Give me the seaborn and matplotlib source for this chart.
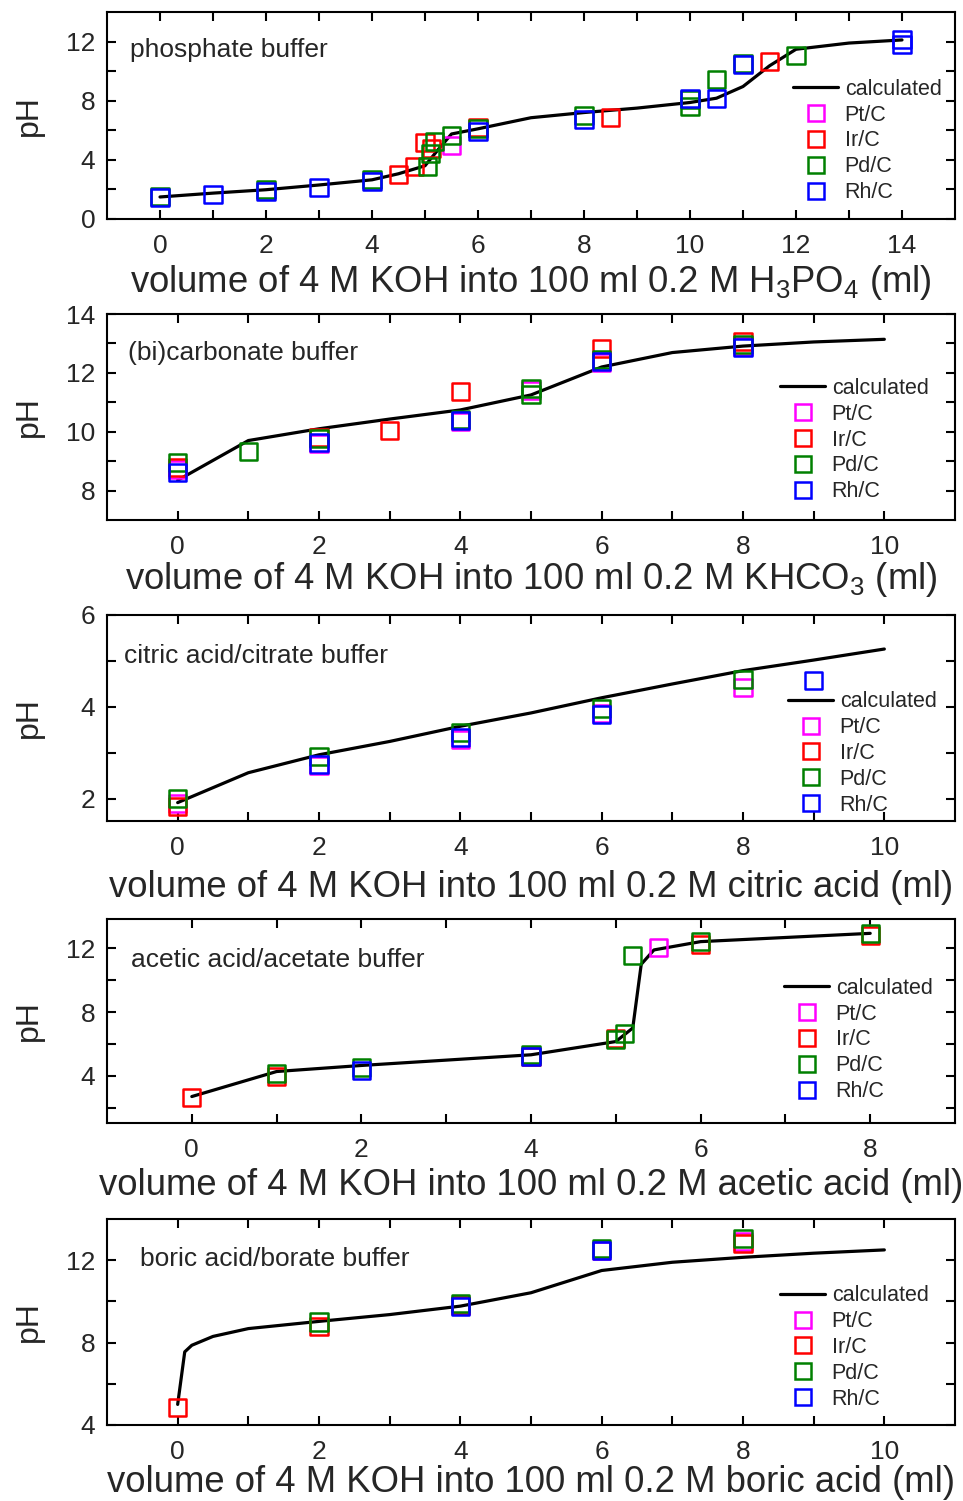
import numpy as np
import pandas as pd
import matplotlib
matplotlib.use("Agg")
import matplotlib.pyplot as plt
import seaborn as sns
from matplotlib.lines import Line2D
from matplotlib.ticker import FixedLocator

# ---------------- data ----------------
catalysts = ["Pt/C", "Ir/C", "Pd/C", "Rh/C"]
cat_colors = ["#FF00FF", "#FF0000", "#008000", "#0000FF"]

# phosphate buffer
phos_calc_x = [0, 1, 2, 3, 4, 4.5, 5, 5.25, 5.5, 6, 7, 8, 9, 10, 10.5, 11, 11.5, 12, 13, 14]
phos_calc_y = [1.49, 1.75, 1.98, 2.3, 2.65, 3.06, 3.6, 4.7, 5.75, 6.1, 6.85, 7.2, 7.5, 7.88, 8.17, 8.96, 10.36, 11.48, 11.9, 12.11]
phos_pt_x = [5.5]
phos_pt_y = [4.95]
phos_ir_x = [4.5, 4.8, 5.0, 5.12, 6, 8.5, 11.5]
phos_ir_y = [2.99, 3.55, 5.18, 4.8, 6.2, 6.89, 10.65]
phos_pd_x = [0, 2, 4, 5.05, 5.1, 5.18, 5.5, 6, 8, 10, 10, 10.5, 11, 12]
phos_pd_y = [1.55, 2.0, 2.65, 3.55, 4.41, 5.24, 5.63, 6.1, 6.98, 7.6, 8.05, 9.41, 10.55, 11.03]
phos_rh_x = [0, 1, 2, 3, 4, 6, 8, 10, 10.5, 11, 14, 14]
phos_rh_y = [1.45, 1.64, 1.86, 2.14, 2.54, 5.92, 6.7, 8.17, 8.17, 10.43, 12.11, 11.8]

# (bi)carbonate buffer
carb_calc_x = [0, 1, 2, 3, 4, 5, 6, 7, 8, 9, 10]
carb_calc_y = [8.35, 9.7, 10.1, 10.43, 10.74, 11.25, 12.2, 12.69, 12.91, 13.05, 13.14]
carb_pt_x = [0, 2, 4, 5, 6, 8]
carb_pt_y = [8.7, 9.6, 10.35, 11.39, 12.35, 12.9]
carb_ir_x = [0, 2, 3, 4, 6, 8]
carb_ir_y = [8.8, 9.82, 10.04, 11.36, 12.83, 13.05]
carb_pd_x = [0, 1, 2, 4, 5, 5, 6, 8]
carb_pd_y = [8.95, 9.34, 9.76, 10.43, 11.48, 11.28, 12.46, 12.95]
carb_rh_x = [0, 2, 4, 6, 8]
carb_rh_y = [8.63, 9.65, 10.38, 12.4, 12.87]

# citric acid/citrate buffer
citr_calc_x = [0, 1, 2, 3, 4, 5, 6, 7, 8, 9, 10]
citr_calc_y = [1.92, 2.57, 2.96, 3.25, 3.58, 3.87, 4.2, 4.5, 4.79, 5.02, 5.26]
citr_pt_x = [0, 2, 4, 6, 8]
citr_pt_y = [1.9, 2.72, 3.3, 3.85, 4.42]
citr_ir_x = [0]
citr_ir_y = [1.83]
citr_pd_x = [0, 2, 4, 6, 8]
citr_pd_y = [2.02, 2.93, 3.45, 3.96, 4.6]
citr_rh_x = [2, 4, 6, 9]
citr_rh_y = [2.75, 3.33, 3.84, 4.58]

# acetic acid/acetate buffer
acet_calc_x = [0, 1, 2, 4, 5, 5.2, 5.3, 5.45, 6, 8]
acet_calc_y = [2.7, 4.27, 4.65, 5.32, 6.15, 7.0, 11.0, 11.9, 12.42, 12.94]
acet_pt_x = [5.5]
acet_pt_y = [12.06]
acet_ir_x = [0, 1, 4, 5, 6, 8]
acet_ir_y = [2.64, 3.96, 5.2, 6.32, 12.25, 12.79]
acet_pd_x = [1, 2, 4, 5, 5.1, 5.2, 6, 8]
acet_pd_y = [4.12, 4.54, 5.32, 6.3, 6.67, 11.54, 12.41, 12.94]
acet_rh_x = [2, 4]
acet_rh_y = [4.33, 5.21]

# boric acid/borate buffer
bor_calc_x = [0, 0.1, 0.2, 0.5, 1, 2, 3, 4, 5, 6, 7, 8, 9, 10]
bor_calc_y = [5.0, 7.55, 7.87, 8.3, 8.68, 9.03, 9.36, 9.77, 10.42, 11.5, 11.9, 12.14, 12.34, 12.5]
bor_pt_x = [4, 6, 8]
bor_pt_y = [9.8, 12.45, 12.9]
bor_ir_x = [0, 2, 4, 8]
bor_ir_y = [4.84, 8.78, 9.8, 12.82]
bor_pd_x = [2, 4, 6, 8]
bor_pd_y = [9.0, 9.92, 12.58, 13.03]
bor_rh_x = [4, 6]
bor_rh_y = [9.76, 12.47]

buffer_names = ["phosphate buffer", "(bi)carbonate buffer", "citric acid/citrate buffer",
                "acetic acid/acetate buffer", "boric acid/borate buffer"]
xlabels = [
    r"volume of 4 M KOH into 100 ml 0.2 M H$\mathregular{_3}$PO$\mathregular{_4}$ (ml)",
    r"volume of 4 M KOH into 100 ml 0.2 M KHCO$\mathregular{_3}$ (ml)",
    "volume of 4 M KOH into 100 ml 0.2 M citric acid (ml)",
    "volume of 4 M KOH into 100 ml 0.2 M acetic acid (ml)",
    "volume of 4 M KOH into 100 ml 0.2 M boric acid (ml)",
]

# ---------------- style ----------------
sns.set_style("ticks")
plt.rcParams["font.family"] = ["Liberation Sans", "DejaVu Sans"]
plt.rcParams["mathtext.fontset"] = "custom"
plt.rcParams["mathtext.rm"] = "Liberation Sans"
plt.rcParams["mathtext.it"] = "Liberation Sans:italic"
plt.rcParams["mathtext.bf"] = "Liberation Sans:bold"

W, H = 963, 1501
fig = plt.figure(figsize=(W / 100, H / 100), dpi=100)

panels = [
    dict(calc=(phos_calc_x, phos_calc_y),
         pts=[(phos_pt_x, phos_pt_y), (phos_ir_x, phos_ir_y), (phos_pd_x, phos_pd_y), (phos_rh_x, phos_rh_y)],
         top=12, bot=219, xlim=(-1, 15), ylim=(0, 14),
         xmaj=[0, 2, 4, 6, 8, 10, 12, 14], xmin=[1, 3, 5, 7, 9, 11, 13],
         ymaj=[0, 4, 8, 12], ymin=[2, 6, 10],
         leg=(793, 141), txt=(130, 50), lpad=4),
    dict(calc=(carb_calc_x, carb_calc_y),
         pts=[(carb_pt_x, carb_pt_y), (carb_ir_x, carb_ir_y), (carb_pd_x, carb_pd_y), (carb_rh_x, carb_rh_y)],
         top=314, bot=520, xlim=(-1, 11), ylim=(7, 14),
         xmaj=[0, 2, 4, 6, 8, 10], xmin=[1, 3, 5, 7, 9],
         ymaj=[8, 10, 12, 14], ymin=[9, 11, 13],
         leg=(780, 440), txt=(128, 353), lpad=1.2),
    dict(calc=(citr_calc_x, citr_calc_y),
         pts=[(citr_pt_x, citr_pt_y), (citr_ir_x, citr_ir_y), (citr_pd_x, citr_pd_y), (citr_rh_x, citr_rh_y)],
         top=615, bot=821, xlim=(-1, 11), ylim=(1.52, 6),
         xmaj=[0, 2, 4, 6, 8, 10], xmin=[1, 3, 5, 7, 9],
         ymaj=[2, 4, 6], ymin=[3, 5],
         leg=(788, 753.5), txt=(124, 656), lpad=7.5),
    dict(calc=(acet_calc_x, acet_calc_y),
         pts=[(acet_pt_x, acet_pt_y), (acet_ir_x, acet_ir_y), (acet_pd_x, acet_pd_y), (acet_rh_x, acet_rh_y)],
         top=919, bot=1123, xlim=(-1, 9), ylim=(1.04, 13.84),
         xmaj=[0, 2, 4, 6, 8], xmin=[1, 3, 5, 7],
         ymaj=[4, 8, 12], ymin=[2, 6, 10],
         leg=(784, 1040), txt=(131, 960), lpad=4.5),
    dict(calc=(bor_calc_x, bor_calc_y),
         pts=[(bor_pt_x, bor_pt_y), (bor_ir_x, bor_ir_y), (bor_pd_x, bor_pd_y), (bor_rh_x, bor_rh_y)],
         top=1219, bot=1425, xlim=(-1, 11), ylim=(4, 14),
         xmaj=[0, 2, 4, 6, 8, 10], xmin=[1, 3, 5, 7, 9],
         ymaj=[4, 8, 12], ymin=[6, 10],
         leg=(780, 1347.5), txt=(140, 1259), lpad=1.0),
]

AX_L, AX_R = 107, 955
TICK_FS = 19
for i, p in enumerate(panels):
    ax = fig.add_axes([AX_L / W, 1 - p["bot"] / H, (AX_R - AX_L) / W, (p["bot"] - p["top"]) / H])
    cx, cy = p["calc"]
    sns.lineplot(x=cx, y=cy, color="black", linewidth=2.3, estimator=None, sort=False, ax=ax, zorder=2)
    for (px, py), col in zip(p["pts"], cat_colors):
        sns.scatterplot(x=px, y=py, marker="s", s=150, color=col, facecolor="none",
                        edgecolor=col, linewidth=1.8, ax=ax, zorder=3)
    ax.set_xlim(*p["xlim"])
    ax.set_ylim(*p["ylim"])
    ax.xaxis.set_major_locator(FixedLocator(p["xmaj"]))
    ax.xaxis.set_minor_locator(FixedLocator(p["xmin"]))
    ax.yaxis.set_major_locator(FixedLocator(p["ymaj"]))
    ax.yaxis.set_minor_locator(FixedLocator(p["ymin"]))
    ax.tick_params(which="both", direction="in", top=True, right=True, length=6.5, width=1.5,
                   color="black")
    ax.tick_params(axis="x", which="major", labelsize=TICK_FS, pad=10.5)
    ax.tick_params(axis="y", which="major", labelsize=TICK_FS, pad=8.5)
    for s in ax.spines.values():
        s.set_linewidth(1.5)
        s.set_color("black")
        s.set_visible(True)
    ax.set_xlabel(xlabels[i], fontsize=26.3, labelpad=p["lpad"])
    ax.set_ylabel("pH", fontsize=23)
    ax.yaxis.set_label_coords((44 - AX_L) / (AX_R - AX_L), 0.5)

    tx, ty = p["txt"]
    ax.text((tx - AX_L) / (AX_R - AX_L), (p["bot"] - ty) / (p["bot"] - p["top"]), buffer_names[i],
            transform=ax.transAxes, fontsize=19, ha="left", va="center")

    handles = [Line2D([], [], color="black", lw=2.3)]
    for col in cat_colors:
        handles.append(Line2D([], [], marker="s", ls="none", mfc="none", mec=col, mew=1.8, ms=12.2))
    lx, ly = p["leg"]
    leg = ax.legend(handles, ["calculated"] + catalysts, loc="center left",
                    bbox_to_anchor=((lx - AX_L) / (AX_R - AX_L), (p["bot"] - ly) / (p["bot"] - p["top"])),
                    frameon=False, borderpad=0, borderaxespad=0, handlelength=2.1,
                    handletextpad=0.3, labelspacing=0.23, fontsize=15.5)

fig.savefig("out.png", dpi=100)
